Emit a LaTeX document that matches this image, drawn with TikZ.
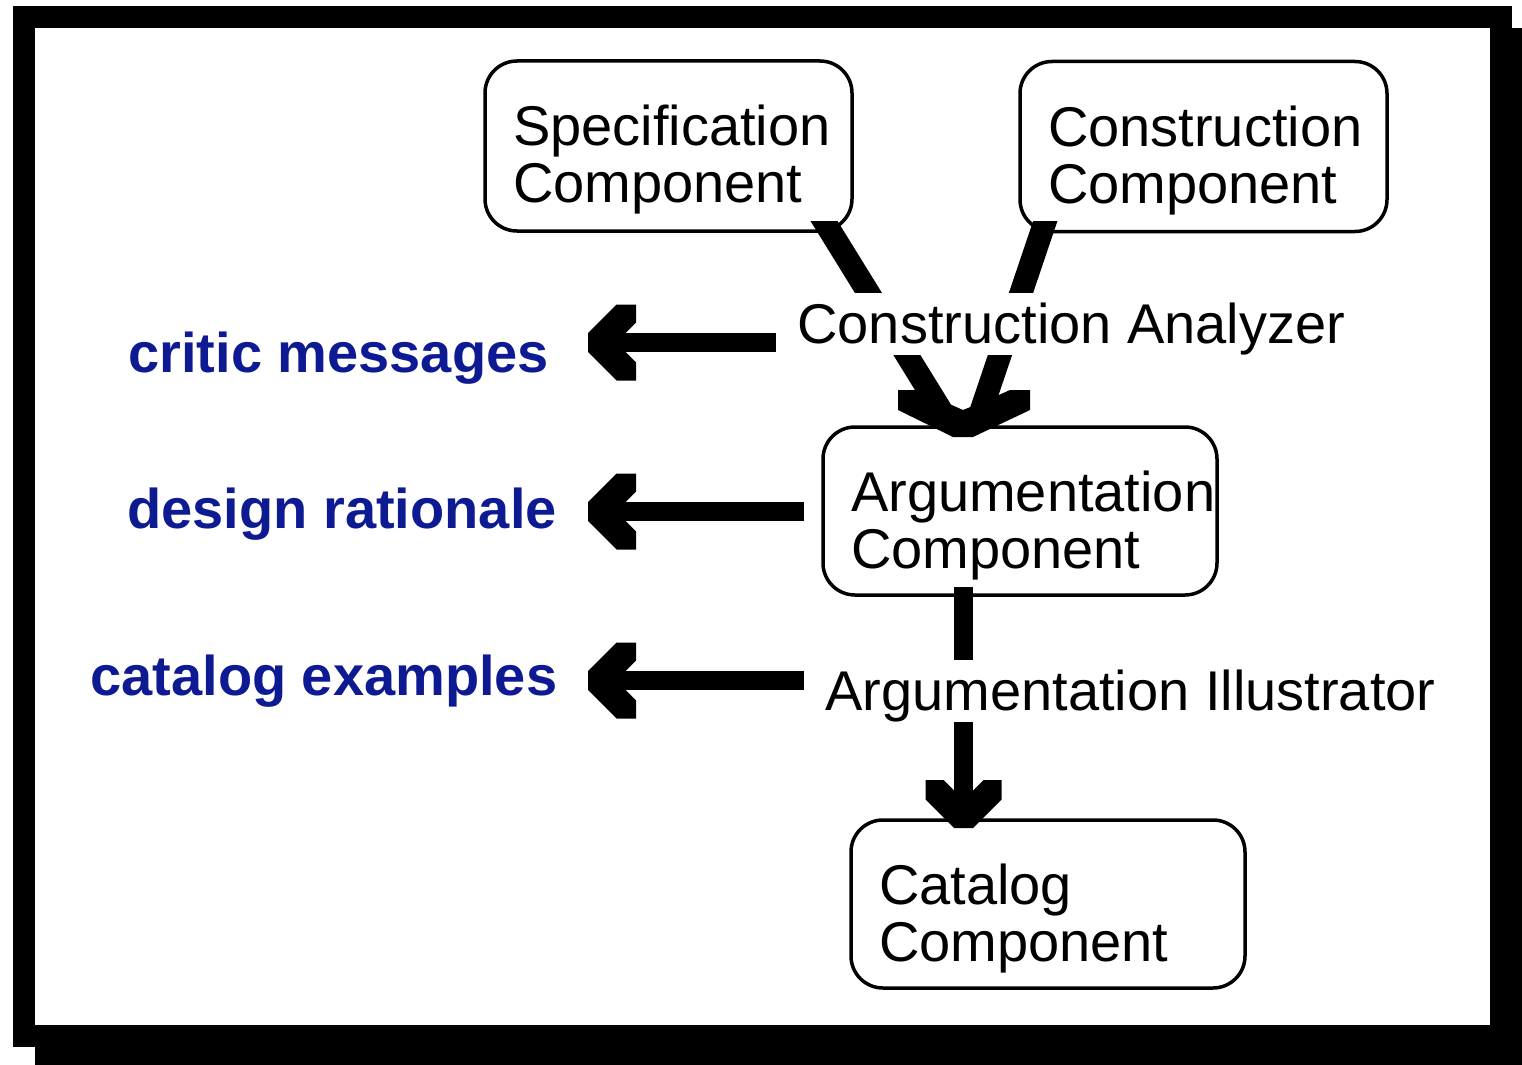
\documentclass[tikz,border=0pt]{standalone}
\usepackage{fontspec}
\setmainfont{Liberation Sans}
\usetikzlibrary{calc,decorations.markings}
\definecolor{critblue}{RGB}{14,26,146}
\tikzset{
  comp/.style={draw, line width=1.75pt, rounded corners=16pt, fill=white, outer sep=0pt,
    align=left, inner xsep=14pt, inner ysep=0pt, text height=20pt, text depth=20pt,
    font=\fontsize{28}{28.5}\selectfont},
  small comp/.style={comp, minimum width=183.5pt, text width=155.5pt, minimum height=85pt},
  wide comp/.style={comp, minimum width=197pt, text width=169pt, minimum height=84pt},
  outlabel/.style={anchor=base west, inner sep=0pt, text=critblue,
    font=\fontsize{28}{28.5}\selectfont\bfseries},
  pathlabel/.style={anchor=base west, fill=white, inner sep=0pt, text height=25pt, text depth=6pt,
    font=\fontsize{28}{28.5}\selectfont},
  shaft/.style={line width=11.5pt},
  bigarrow/.style={line width=9.5pt, postaction={decorate},
    decoration={markings, mark=at position 1 with {
      \fill (0pt,4.75pt) -- (-14.25pt,19pt) -- (-24pt,19pt) -- (-24pt,10pt) -- (-18.75pt,4.75pt)
        -- (-18.75pt,-4.75pt) -- (-24pt,-10pt) -- (-24pt,-19pt) -- (-14.25pt,-19pt) -- (0pt,-4.75pt) -- cycle;}}}
}
\begin{document}
\begin{tikzpicture}[x=0.5pt, y=-0.5pt]
\fill[white] (0,0) rectangle (1522,1065);
\useasboundingbox (0,0) rectangle (1522,1065);

% frame and shadow
\fill (35,28) rectangle (1522,1065);
\fill (13,6) rectangle (1512,1047);
\fill[white] (35,28) rectangle (1490,1025);

% components
\node[small comp] (spec) at (668.5,146) {Specification\\Component};
\node[small comp] (cons) at (1203.5,146.5) {Construction\\Component};
\node[wide comp] (arg) at (1020,511) {Argumentation\\Component};
\node[wide comp] (cat) at (1048,904) {Catalog\\Component};

% what comes out
\node[outlabel] (msg) at (128,372) {critic messages};
\node[outlabel] (rat) at (127,528) {design rationale};
\node[outlabel] (ex) at (90,695) {catalog examples};

% both components meet in one head on top of arg
\coordinate (meet) at ($(arg.north)+(-56,10)$);
\begin{scope}
\clip (0,222) rectangle (1522,1065);
\draw[shaft] ($(spec.south east)+(-41,-31)$) -- ($(meet)+(-17,-17)$);
\draw[shaft] ($(cons.south west)+(32.4,-31.5)$) -- ($(meet)+(14,-17)$);
\end{scope}
\fill[shift={(meet)}] (-66,-47) -- (-39,-47) -- (-26,-38) -- (-1,-27) -- (26,-38) -- (46,-47)
  -- (66,-47) -- (66,-27) -- (9,0) -- (-11,0) -- (-66,-27) -- cycle;

\draw[bigarrow] ($(arg.south)+(-56.5,-8)$) -- ($(cat.north)+(-84.5,8)$);

\foreach \n/\x/\y in {msg/776/342.5, rat/804/511.5, ex/804/680.5} {
  \coordinate (\n from) at (\x,\y);
  \coordinate (\n to) at (588,\y);
  \draw[bigarrow] (\n from) -- (\n to);
}

\node[pathlabel] (analyzer) at (797,343) {Construction Analyzer};
\node[pathlabel] (illustrator) at (825,710) {Argumentation Illustrator};
\end{tikzpicture}
\end{document}
